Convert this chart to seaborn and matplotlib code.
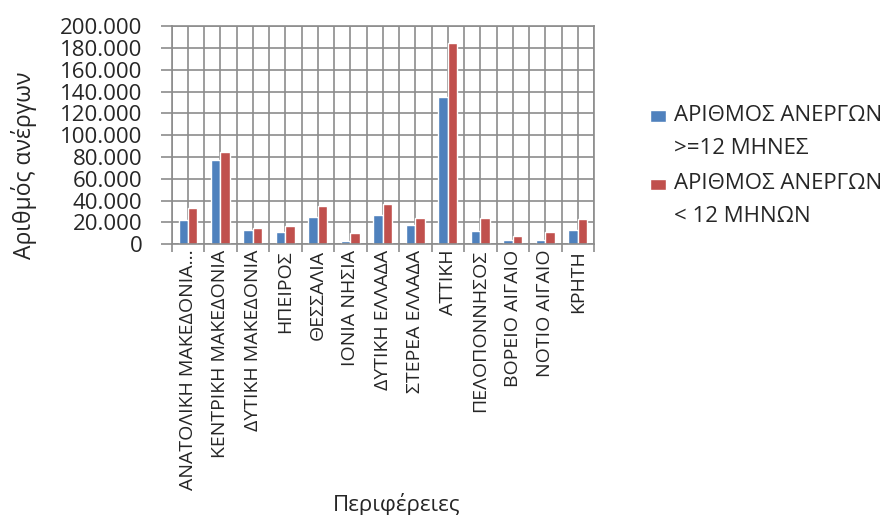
import numpy as np
import pandas as pd
import matplotlib
matplotlib.use('Agg')
import matplotlib.pyplot as plt
from matplotlib.ticker import FuncFormatter, MultipleLocator
import seaborn as sns

# Δεδομένα (εκτίμηση από την εικόνα)
perifereies = ['ΑΝΑΤΟΛΙΚΗ ΜΑΚΕΔΟΝΙΑ...', 'ΚΕΝΤΡΙΚΗ ΜΑΚΕΔΟΝΙΑ', 'ΔΥΤΙΚΗ ΜΑΚΕΔΟΝΙΑ',
               'ΗΠΕΙΡΟΣ', 'ΘΕΣΣΑΛΙΑ', 'ΙΟΝΙΑ ΝΗΣΙΑ', 'ΔΥΤΙΚΗ ΕΛΛΑΔΑ', 'ΣΤΕΡΕΑ ΕΛΛΑΔΑ',
               'ΑΤΤΙΚΗ', 'ΠΕΛΟΠΟΝΝΗΣΟΣ', 'ΒΟΡΕΙΟ ΑΙΓΑΙΟ', 'ΝΟΤΙΟ ΑΙΓΑΙΟ', 'ΚΡΗΤΗ']
anergoi_makro = [22000, 77600, 12800, 11600, 25000, 2700, 27200, 17700,
                 135000, 12500, 3700, 3700, 12800]
anergoi_brachy = [33600, 84600, 14700, 16500, 35100, 10100, 37300, 23800,
                  184700, 23800, 7300, 11600, 22900]
seires = ['ΑΡΙΘΜΟΣ ΑΝΕΡΓΩΝ\n>=12 ΜΗΝΕΣ', 'ΑΡΙΘΜΟΣ ΑΝΕΡΓΩΝ\n< 12 ΜΗΝΩΝ']
xromata = ['#4F81BD', '#C0504D']

df = pd.DataFrame({
    'Περιφέρεια': perifereies * 2,
    'Σειρά': [seires[0]] * len(perifereies) + [seires[1]] * len(perifereies),
    'Άνεργοι': anergoi_makro + anergoi_brachy,
})

sns.set_style('white')
plt.rcParams['font.family'] = ['Open Sans', 'DejaVu Sans']

fig = plt.figure(figsize=(8.91, 5.15), dpi=100)
ax = fig.add_axes([0.1927, 0.5256, 0.474, 0.4239])

sns.barplot(data=df, x='Περιφέρεια', y='Άνεργοι', hue='Σειρά', palette=xromata,
            width=0.58, ax=ax, legend=True, saturation=1)

gkri = '#8c8c8c'
ax.set_ylim(0, 200000)
ax.set_xlim(-0.5, len(perifereies) - 0.5)
ax.yaxis.set_major_locator(MultipleLocator(20000))
ax.yaxis.set_major_formatter(FuncFormatter(lambda v, p: f'{int(v):,}'.replace(',', '.')))

# πλέγμα: στα όρια και στο κέντρο κάθε κατηγορίας
ax.set_xticks(np.arange(len(perifereies)))
ax.set_xticks(np.arange(len(perifereies) + 1) - 0.5, minor=True)
ax.set_xticklabels(perifereies, rotation=90, fontsize=14)
ax.tick_params(axis='x', which='major', length=0, pad=4)
ax.tick_params(axis='x', which='minor', length=6, color=gkri, width=1.2, bottom=True)
ax.tick_params(axis='y', length=8, color=gkri, width=1.2, labelsize=16, pad=13, left=True)
ax.grid(True, which='both', color=gkri, linewidth=1.2)
ax.set_axisbelow(True)
for s in ax.spines.values():
    s.set_color(gkri)
    s.set_linewidth(1.2)

ax.set_ylabel('Αριθμός ανέργων', fontsize=16.5)
ax.set_xlabel('Περιφέρειες', fontsize=16)
ax.yaxis.set_label_coords(-0.319, 0.363)
ax.xaxis.set_label_coords(0.532, -1.222)
ax.xaxis.label.set_va('baseline')

leg = ax.legend(loc='upper left', bbox_to_anchor=(1.112, 0.68), frameon=False,
                fontsize=16, handlelength=0.72, handleheight=3.0, handletextpad=0.35,
                labelspacing=0.66, borderaxespad=0)
for t in leg.get_texts():
    t.set_linespacing(1.75)
for p in leg.get_patches():
    h = p.get_height()
    p.set_height(h * 0.23)
    p.set_y(p.get_y() + h * 0.74)

fig.savefig('out.png', dpi=100)
